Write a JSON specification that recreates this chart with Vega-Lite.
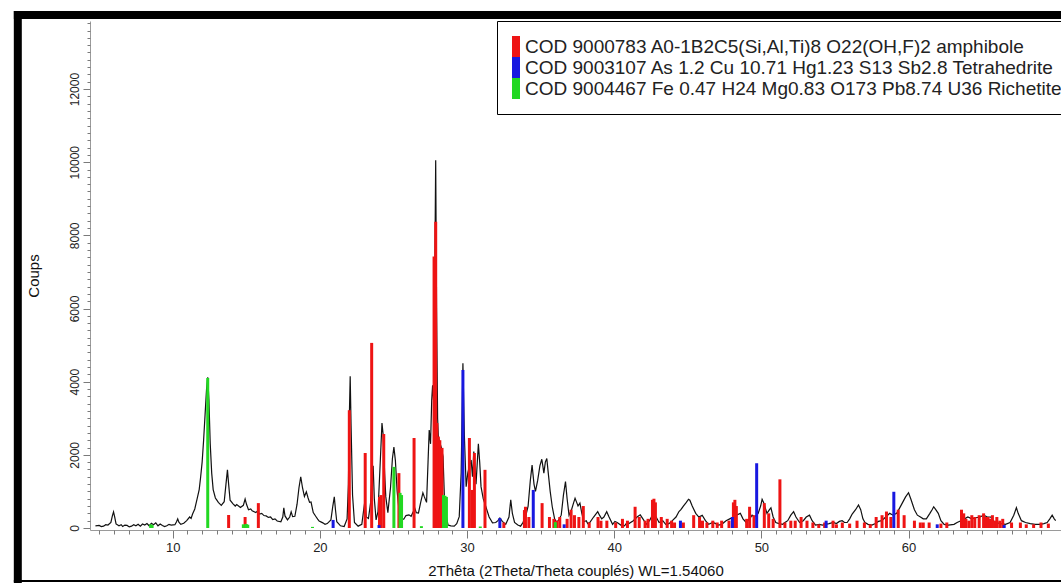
{
  "$schema": "https://vega.github.io/schema/vega-lite/v6.json",
  "width": 971,
  "height": 509,
  "autosize": {"type": "none"},
  "padding": {"left": 90, "top": 21, "right": 0, "bottom": 53},
  "background": "white",
  "config": {"view": {"stroke": null}, "font": "Liberation Sans"},
  "resolve": {"axis": {"x": "independent", "y": "independent"}},
  "datasets": {
    "scan": [
      {"twotheta": 4.75, "counts": 60}, {"twotheta": 5.0, "counts": 70}, {"twotheta": 5.15, "counts": 40}, {"twotheta": 5.3, "counts": 50}, {"twotheta": 5.45, "counts": 90}, {"twotheta": 5.6, "counts": 80}, {"twotheta": 5.8, "counts": 150}, {"twotheta": 5.9, "counts": 330}, {"twotheta": 5.98, "counts": 440}, {"twotheta": 6.06, "counts": 300}, {"twotheta": 6.15, "counts": 110}, {"twotheta": 6.35, "counts": 60}, {"twotheta": 6.5, "counts": 90}, {"twotheta": 6.6, "counts": 40}, {"twotheta": 6.75, "counts": 80}, {"twotheta": 6.9, "counts": 70}, {"twotheta": 7.05, "counts": 30}, {"twotheta": 7.2, "counts": 50}, {"twotheta": 7.35, "counts": 90}, {"twotheta": 7.5, "counts": 60}, {"twotheta": 7.65, "counts": 100}, {"twotheta": 7.8, "counts": 50}, {"twotheta": 7.95, "counts": 110}, {"twotheta": 8.1, "counts": 80}, {"twotheta": 8.25, "counts": 120}, {"twotheta": 8.4, "counts": 60}, {"twotheta": 8.55, "counts": 130}, {"twotheta": 8.7, "counts": 90}, {"twotheta": 8.85, "counts": 140}, {"twotheta": 9.0, "counts": 60}, {"twotheta": 9.15, "counts": 110}, {"twotheta": 9.3, "counts": 70}, {"twotheta": 9.45, "counts": 40}, {"twotheta": 9.6, "counts": 60}, {"twotheta": 9.75, "counts": 100}, {"twotheta": 9.9, "counts": 80},
      {"twotheta": 10.15, "counts": 90}, {"twotheta": 10.26, "counts": 170}, {"twotheta": 10.34, "counts": 250}, {"twotheta": 10.42, "counts": 160}, {"twotheta": 10.55, "counts": 100}, {"twotheta": 10.75, "counts": 130}, {"twotheta": 10.95, "counts": 200}, {"twotheta": 11.15, "counts": 300}, {"twotheta": 11.25, "counts": 260}, {"twotheta": 11.35, "counts": 380}, {"twotheta": 11.5, "counts": 520}, {"twotheta": 11.65, "counts": 780}, {"twotheta": 11.8, "counts": 1050}, {"twotheta": 11.9, "counts": 1400}, {"twotheta": 12.0, "counts": 1800}, {"twotheta": 12.1, "counts": 2400}, {"twotheta": 12.2, "counts": 3100}, {"twotheta": 12.3, "counts": 3800}, {"twotheta": 12.38, "counts": 4120}, {"twotheta": 12.46, "counts": 3500}, {"twotheta": 12.55, "counts": 2300}, {"twotheta": 12.65, "counts": 1500}, {"twotheta": 12.75, "counts": 1050}, {"twotheta": 12.9, "counts": 820}, {"twotheta": 13.0, "counts": 760}, {"twotheta": 13.1, "counts": 700}, {"twotheta": 13.2, "counts": 660}, {"twotheta": 13.3, "counts": 620}, {"twotheta": 13.5, "counts": 720}, {"twotheta": 13.62, "counts": 1200}, {"twotheta": 13.72, "counts": 1590}, {"twotheta": 13.8, "counts": 1200}, {"twotheta": 13.9, "counts": 760},
      {"twotheta": 14.1, "counts": 660}, {"twotheta": 14.25, "counts": 600}, {"twotheta": 14.35, "counts": 640}, {"twotheta": 14.6, "counts": 560}, {"twotheta": 14.8, "counts": 620}, {"twotheta": 14.92, "counts": 790}, {"twotheta": 15.02, "counts": 640}, {"twotheta": 15.15, "counts": 500}, {"twotheta": 15.3, "counts": 520}, {"twotheta": 15.4, "counts": 470}, {"twotheta": 15.65, "counts": 420}, {"twotheta": 15.75, "counts": 460}, {"twotheta": 15.9, "counts": 380}, {"twotheta": 16.05, "counts": 400}, {"twotheta": 16.2, "counts": 340}, {"twotheta": 16.35, "counts": 330}, {"twotheta": 16.5, "counts": 290}, {"twotheta": 16.65, "counts": 300}, {"twotheta": 16.8, "counts": 230}, {"twotheta": 16.95, "counts": 250}, {"twotheta": 17.1, "counts": 190}, {"twotheta": 17.35, "counts": 170}, {"twotheta": 17.48, "counts": 300}, {"twotheta": 17.55, "counts": 550}, {"twotheta": 17.63, "counts": 330}, {"twotheta": 17.8, "counts": 220}, {"twotheta": 17.95, "counts": 300}, {"twotheta": 18.05, "counts": 440}, {"twotheta": 18.15, "counts": 310}, {"twotheta": 18.3, "counts": 320}, {"twotheta": 18.45, "counts": 650}, {"twotheta": 18.58, "counts": 1100}, {"twotheta": 18.7, "counts": 1400}, {"twotheta": 18.82, "counts": 1100}, {"twotheta": 18.95, "counts": 860}, {"twotheta": 19.08, "counts": 990}, {"twotheta": 19.2, "counts": 820}, {"twotheta": 19.3, "counts": 700}, {"twotheta": 19.4, "counts": 710}, {"twotheta": 19.55, "counts": 420}, {"twotheta": 19.75, "counts": 300}, {"twotheta": 19.85, "counts": 240}, {"twotheta": 19.95, "counts": 190},
      {"twotheta": 20.1, "counts": 160}, {"twotheta": 20.2, "counts": 140}, {"twotheta": 20.35, "counts": 100}, {"twotheta": 20.5, "counts": 120}, {"twotheta": 20.75, "counts": 220}, {"twotheta": 20.88, "counts": 600}, {"twotheta": 20.98, "counts": 850}, {"twotheta": 21.06, "counts": 500}, {"twotheta": 21.15, "counts": 170}, {"twotheta": 21.4, "counts": 60}, {"twotheta": 21.65, "counts": 40}, {"twotheta": 21.85, "counts": 250}, {"twotheta": 21.94, "counts": 1200}, {"twotheta": 22.0, "counts": 3000}, {"twotheta": 22.06, "counts": 4150}, {"twotheta": 22.12, "counts": 2800}, {"twotheta": 22.22, "counts": 900}, {"twotheta": 22.35, "counts": 150}, {"twotheta": 22.6, "counts": 50}, {"twotheta": 22.85, "counts": 100}, {"twotheta": 22.98, "counts": 500}, {"twotheta": 23.07, "counts": 770}, {"twotheta": 23.15, "counts": 300}, {"twotheta": 23.3, "counts": 260}, {"twotheta": 23.45, "counts": 700}, {"twotheta": 23.55, "counts": 1500}, {"twotheta": 23.62, "counts": 1700}, {"twotheta": 23.7, "counts": 800}, {"twotheta": 23.82, "counts": 220}, {"twotheta": 23.95, "counts": 450}, {"twotheta": 24.08, "counts": 1600}, {"twotheta": 24.22, "counts": 2870}, {"twotheta": 24.3, "counts": 2550}, {"twotheta": 24.4, "counts": 1500}, {"twotheta": 24.48, "counts": 850}, {"twotheta": 24.62, "counts": 420}, {"twotheta": 24.8, "counts": 1100}, {"twotheta": 24.93, "counts": 1900}, {"twotheta": 25.03, "counts": 2210}, {"twotheta": 25.13, "counts": 1850}, {"twotheta": 25.25, "counts": 1000}, {"twotheta": 25.37, "counts": 520}, {"twotheta": 25.55, "counts": 240}, {"twotheta": 25.7, "counts": 240}, {"twotheta": 25.85, "counts": 340},
      {"twotheta": 26.05, "counts": 360}, {"twotheta": 26.2, "counts": 320}, {"twotheta": 26.35, "counts": 450}, {"twotheta": 26.44, "counts": 550}, {"twotheta": 26.55, "counts": 420}, {"twotheta": 26.7, "counts": 410}, {"twotheta": 26.85, "counts": 700}, {"twotheta": 27.0, "counts": 960}, {"twotheta": 27.1, "counts": 850}, {"twotheta": 27.25, "counts": 700}, {"twotheta": 27.35, "counts": 1800}, {"twotheta": 27.43, "counts": 2680}, {"twotheta": 27.52, "counts": 2300}, {"twotheta": 27.6, "counts": 3500}, {"twotheta": 27.66, "counts": 3900}, {"twotheta": 27.72, "counts": 3500}, {"twotheta": 27.8, "counts": 6500}, {"twotheta": 27.87, "counts": 10050}, {"twotheta": 27.93, "counts": 6000}, {"twotheta": 28.0, "counts": 3000}, {"twotheta": 28.05, "counts": 2500}, {"twotheta": 28.12, "counts": 2370}, {"twotheta": 28.25, "counts": 2200}, {"twotheta": 28.37, "counts": 1950}, {"twotheta": 28.46, "counts": 860}, {"twotheta": 28.6, "counts": 300}, {"twotheta": 28.71, "counts": 80}, {"twotheta": 28.9, "counts": 60}, {"twotheta": 29.13, "counts": 50}, {"twotheta": 29.3, "counts": 120}, {"twotheta": 29.47, "counts": 310}, {"twotheta": 29.6, "counts": 1500}, {"twotheta": 29.72, "counts": 4500}, {"twotheta": 29.82, "counts": 2500}, {"twotheta": 29.94, "counts": 1130},
      {"twotheta": 30.05, "counts": 1500}, {"twotheta": 30.16, "counts": 1700}, {"twotheta": 30.28, "counts": 1860}, {"twotheta": 30.37, "counts": 1400}, {"twotheta": 30.46, "counts": 2090}, {"twotheta": 30.61, "counts": 1200}, {"twotheta": 30.77, "counts": 2300}, {"twotheta": 30.86, "counts": 1800}, {"twotheta": 30.95, "counts": 1130}, {"twotheta": 31.1, "counts": 800}, {"twotheta": 31.28, "counts": 580}, {"twotheta": 31.5, "counts": 300}, {"twotheta": 31.73, "counts": 140}, {"twotheta": 31.95, "counts": 150}, {"twotheta": 32.1, "counts": 200}, {"twotheta": 32.23, "counts": 270}, {"twotheta": 32.4, "counts": 180}, {"twotheta": 32.63, "counts": 100}, {"twotheta": 32.85, "counts": 300}, {"twotheta": 32.97, "counts": 770}, {"twotheta": 33.08, "counts": 400}, {"twotheta": 33.23, "counts": 150}, {"twotheta": 33.45, "counts": 80}, {"twotheta": 33.64, "counts": 50}, {"twotheta": 33.8, "counts": 150}, {"twotheta": 33.97, "counts": 300}, {"twotheta": 34.15, "counts": 600}, {"twotheta": 34.3, "counts": 1300}, {"twotheta": 34.42, "counts": 1720}, {"twotheta": 34.55, "counts": 1200}, {"twotheta": 34.65, "counts": 1000}, {"twotheta": 34.8, "counts": 1300}, {"twotheta": 34.95, "counts": 1700}, {"twotheta": 35.08, "counts": 1880}, {"twotheta": 35.15, "counts": 1700}, {"twotheta": 35.22, "counts": 1500}, {"twotheta": 35.32, "counts": 1800}, {"twotheta": 35.42, "counts": 1900}, {"twotheta": 35.52, "counts": 1500}, {"twotheta": 35.65, "counts": 1000}, {"twotheta": 35.79, "counts": 580}, {"twotheta": 35.95, "counts": 250},
      {"twotheta": 36.06, "counts": 170}, {"twotheta": 36.2, "counts": 200}, {"twotheta": 36.4, "counts": 350}, {"twotheta": 36.55, "counts": 900}, {"twotheta": 36.69, "counts": 1270}, {"twotheta": 36.8, "counts": 800}, {"twotheta": 36.93, "counts": 350}, {"twotheta": 37.1, "counts": 500}, {"twotheta": 37.25, "counts": 700}, {"twotheta": 37.34, "counts": 810}, {"twotheta": 37.45, "counts": 700}, {"twotheta": 37.54, "counts": 600}, {"twotheta": 37.67, "counts": 680}, {"twotheta": 37.8, "counts": 400}, {"twotheta": 37.94, "counts": 170}, {"twotheta": 38.1, "counts": 200}, {"twotheta": 38.2, "counts": 120}, {"twotheta": 38.34, "counts": 150}, {"twotheta": 38.6, "counts": 300}, {"twotheta": 38.88, "counts": 445}, {"twotheta": 39.0, "counts": 350}, {"twotheta": 39.15, "counts": 250}, {"twotheta": 39.3, "counts": 300}, {"twotheta": 39.49, "counts": 445}, {"twotheta": 39.65, "counts": 300}, {"twotheta": 39.89, "counts": 100},
      {"twotheta": 40.05, "counts": 180}, {"twotheta": 40.2, "counts": 150}, {"twotheta": 40.45, "counts": 80}, {"twotheta": 40.7, "counts": 60}, {"twotheta": 40.85, "counts": 140}, {"twotheta": 41.0, "counts": 120}, {"twotheta": 41.3, "counts": 200}, {"twotheta": 41.55, "counts": 300}, {"twotheta": 41.77, "counts": 360}, {"twotheta": 41.95, "counts": 250}, {"twotheta": 42.18, "counts": 100}, {"twotheta": 42.4, "counts": 200}, {"twotheta": 42.65, "counts": 400}, {"twotheta": 42.85, "counts": 300}, {"twotheta": 43.05, "counts": 150}, {"twotheta": 43.3, "counts": 200}, {"twotheta": 43.5, "counts": 100}, {"twotheta": 43.72, "counts": 120}, {"twotheta": 43.95, "counts": 200}, {"twotheta": 44.2, "counts": 300}, {"twotheta": 44.4, "counts": 450}, {"twotheta": 44.53, "counts": 500}, {"twotheta": 44.7, "counts": 600}, {"twotheta": 44.9, "counts": 700}, {"twotheta": 45.05, "counts": 785}, {"twotheta": 45.14, "counts": 760}, {"twotheta": 45.3, "counts": 600}, {"twotheta": 45.54, "counts": 400}, {"twotheta": 45.75, "counts": 300}, {"twotheta": 45.98, "counts": 350}, {"twotheta": 46.2, "counts": 200}, {"twotheta": 46.42, "counts": 100}, {"twotheta": 46.7, "counts": 150}, {"twotheta": 46.9, "counts": 120}, {"twotheta": 47.09, "counts": 80}, {"twotheta": 47.3, "counts": 100}, {"twotheta": 47.6, "counts": 200}, {"twotheta": 47.85, "counts": 250}, {"twotheta": 48.1, "counts": 300}, {"twotheta": 48.3, "counts": 350}, {"twotheta": 48.57, "counts": 400}, {"twotheta": 48.75, "counts": 250}, {"twotheta": 48.97, "counts": 150}, {"twotheta": 49.2, "counts": 250}, {"twotheta": 49.37, "counts": 350}, {"twotheta": 49.55, "counts": 300}, {"twotheta": 49.78, "counts": 400}, {"twotheta": 49.95, "counts": 600},
      {"twotheta": 50.05, "counts": 785}, {"twotheta": 50.15, "counts": 700}, {"twotheta": 50.38, "counts": 400}, {"twotheta": 50.55, "counts": 500}, {"twotheta": 50.65, "counts": 550}, {"twotheta": 50.8, "counts": 300}, {"twotheta": 50.98, "counts": 150}, {"twotheta": 51.2, "counts": 120}, {"twotheta": 51.45, "counts": 100}, {"twotheta": 51.6, "counts": 150}, {"twotheta": 51.79, "counts": 200}, {"twotheta": 52.0, "counts": 350}, {"twotheta": 52.19, "counts": 445}, {"twotheta": 52.35, "counts": 300}, {"twotheta": 52.6, "counts": 150}, {"twotheta": 52.85, "counts": 200}, {"twotheta": 53.05, "counts": 300}, {"twotheta": 53.27, "counts": 350}, {"twotheta": 53.45, "counts": 200}, {"twotheta": 53.68, "counts": 80}, {"twotheta": 53.95, "counts": 100}, {"twotheta": 54.15, "counts": 80}, {"twotheta": 54.35, "counts": 100}, {"twotheta": 54.6, "counts": 120}, {"twotheta": 54.89, "counts": 150}, {"twotheta": 55.1, "counts": 120}, {"twotheta": 55.3, "counts": 180}, {"twotheta": 55.49, "counts": 200}, {"twotheta": 55.65, "counts": 150}, {"twotheta": 55.83, "counts": 150}, {"twotheta": 56.0, "counts": 250}, {"twotheta": 56.17, "counts": 380}, {"twotheta": 56.4, "counts": 500}, {"twotheta": 56.6, "counts": 630}, {"twotheta": 56.75, "counts": 500}, {"twotheta": 56.9, "counts": 250}, {"twotheta": 57.04, "counts": 150}, {"twotheta": 57.25, "counts": 100}, {"twotheta": 57.51, "counts": 80}, {"twotheta": 57.75, "counts": 120}, {"twotheta": 57.95, "counts": 180}, {"twotheta": 58.18, "counts": 200}, {"twotheta": 58.45, "counts": 300}, {"twotheta": 58.72, "counts": 400}, {"twotheta": 58.95, "counts": 350}, {"twotheta": 59.19, "counts": 400}, {"twotheta": 59.4, "counts": 550}, {"twotheta": 59.6, "counts": 700}, {"twotheta": 59.8, "counts": 850},
      {"twotheta": 60.0, "counts": 965}, {"twotheta": 60.15, "counts": 800}, {"twotheta": 60.4, "counts": 500}, {"twotheta": 60.6, "counts": 350}, {"twotheta": 60.81, "counts": 300}, {"twotheta": 61.0, "counts": 250}, {"twotheta": 61.21, "counts": 250}, {"twotheta": 61.45, "counts": 400}, {"twotheta": 61.6, "counts": 500}, {"twotheta": 61.71, "counts": 580}, {"twotheta": 61.85, "counts": 500}, {"twotheta": 62.02, "counts": 400}, {"twotheta": 62.2, "counts": 200}, {"twotheta": 62.42, "counts": 100}, {"twotheta": 62.7, "counts": 80}, {"twotheta": 63.09, "counts": 100}, {"twotheta": 63.3, "counts": 150}, {"twotheta": 63.56, "counts": 200}, {"twotheta": 63.8, "counts": 250}, {"twotheta": 64.03, "counts": 300}, {"twotheta": 64.3, "counts": 250}, {"twotheta": 64.57, "counts": 280}, {"twotheta": 64.85, "counts": 300}, {"twotheta": 65.11, "counts": 350}, {"twotheta": 65.35, "counts": 300}, {"twotheta": 65.58, "counts": 300}, {"twotheta": 65.75, "counts": 200}, {"twotheta": 65.92, "counts": 150}, {"twotheta": 66.25, "counts": 120}, {"twotheta": 66.59, "counts": 100}, {"twotheta": 66.9, "counts": 150}, {"twotheta": 67.15, "counts": 350}, {"twotheta": 67.33, "counts": 555}, {"twotheta": 67.45, "counts": 400}, {"twotheta": 67.67, "counts": 200}, {"twotheta": 67.95, "counts": 150}, {"twotheta": 68.27, "counts": 120}, {"twotheta": 68.6, "counts": 100}, {"twotheta": 68.95, "counts": 100}, {"twotheta": 69.2, "counts": 120}, {"twotheta": 69.42, "counts": 150}, {"twotheta": 69.6, "counts": 250}, {"twotheta": 69.76, "counts": 350}, {"twotheta": 69.9, "counts": 250}, {"twotheta": 70.0, "counts": 200}
    ],
    "sticks": [
      {"twotheta": 13.8, "counts": 355, "phase": "A"}, {"twotheta": 14.92, "counts": 300, "phase": "A"}, {"twotheta": 15.82, "counts": 680, "phase": "A"}, {"twotheta": 22.0, "counts": 3220, "phase": "A"}, {"twotheta": 23.08, "counts": 2050, "phase": "A"}, {"twotheta": 23.52, "counts": 5060, "phase": "A"}, {"twotheta": 24.05, "counts": 850, "phase": "A"}, {"twotheta": 24.15, "counts": 900, "phase": "A"}, {"twotheta": 24.34, "counts": 2570, "phase": "A"}, {"twotheta": 25.37, "counts": 1500, "phase": "A"}, {"twotheta": 26.4, "counts": 2460, "phase": "A"}, {"twotheta": 27.76, "counts": 7420, "phase": "A"}, {"twotheta": 27.87, "counts": 8375, "phase": "A"}, {"twotheta": 27.95, "counts": 2870, "phase": "A"}, {"twotheta": 28.05, "counts": 2500, "phase": "A"}, {"twotheta": 28.15, "counts": 2400, "phase": "A"}, {"twotheta": 28.3, "counts": 2190, "phase": "A"}, {"twotheta": 30.16, "counts": 2460, "phase": "A"}, {"twotheta": 30.35, "counts": 1040, "phase": "A"}, {"twotheta": 30.5, "counts": 2050, "phase": "A"}, {"twotheta": 31.22, "counts": 1590, "phase": "A"}, {"twotheta": 32.5, "counts": 150, "phase": "A"}, {"twotheta": 33.9, "counts": 490, "phase": "A"}, {"twotheta": 33.97, "counts": 580, "phase": "A"}, {"twotheta": 34.2, "counts": 300, "phase": "A"}, {"twotheta": 35.1, "counts": 680, "phase": "A"}, {"twotheta": 35.6, "counts": 300, "phase": "A"}, {"twotheta": 35.9, "counts": 250, "phase": "A"}, {"twotheta": 36.1, "counts": 200, "phase": "A"}, {"twotheta": 36.3, "counts": 300, "phase": "A"}, {"twotheta": 36.8, "counts": 250, "phase": "A"}, {"twotheta": 37.07, "counts": 500, "phase": "A"}, {"twotheta": 37.3, "counts": 350, "phase": "A"}, {"twotheta": 37.6, "counts": 300, "phase": "A"}, {"twotheta": 37.9, "counts": 600, "phase": "A"}, {"twotheta": 38.3, "counts": 150, "phase": "A"}, {"twotheta": 38.9, "counts": 300, "phase": "A"}, {"twotheta": 39.1, "counts": 200, "phase": "A"}, {"twotheta": 39.5, "counts": 200, "phase": "A"}, {"twotheta": 40.1, "counts": 150, "phase": "A"}, {"twotheta": 40.56, "counts": 250, "phase": "A"}, {"twotheta": 40.9, "counts": 200, "phase": "A"}, {"twotheta": 41.42, "counts": 580, "phase": "A"}, {"twotheta": 41.7, "counts": 300, "phase": "A"}, {"twotheta": 42.1, "counts": 200, "phase": "A"}, {"twotheta": 42.3, "counts": 250, "phase": "A"}, {"twotheta": 42.6, "counts": 770, "phase": "A"}, {"twotheta": 42.7, "counts": 800, "phase": "A"}, {"twotheta": 42.8, "counts": 700, "phase": "A"}, {"twotheta": 43.2, "counts": 300, "phase": "A"}, {"twotheta": 43.6, "counts": 250, "phase": "A"}, {"twotheta": 43.9, "counts": 200, "phase": "A"}, {"twotheta": 44.1, "counts": 150, "phase": "A"}, {"twotheta": 44.7, "counts": 150, "phase": "A"}, {"twotheta": 45.4, "counts": 350, "phase": "A"}, {"twotheta": 45.8, "counts": 300, "phase": "A"}, {"twotheta": 46.0, "counts": 200, "phase": "A"}, {"twotheta": 46.3, "counts": 150, "phase": "A"}, {"twotheta": 46.7, "counts": 200, "phase": "A"}, {"twotheta": 47.0, "counts": 150, "phase": "A"}, {"twotheta": 47.3, "counts": 200, "phase": "A"}, {"twotheta": 47.8, "counts": 200, "phase": "A"}, {"twotheta": 48.1, "counts": 700, "phase": "A"}, {"twotheta": 48.2, "counts": 770, "phase": "A"}, {"twotheta": 48.3, "counts": 600, "phase": "A"}, {"twotheta": 49.0, "counts": 250, "phase": "A"}, {"twotheta": 49.2, "counts": 580, "phase": "A"}, {"twotheta": 49.5, "counts": 350, "phase": "A"}, {"twotheta": 50.2, "counts": 680, "phase": "A"}, {"twotheta": 50.5, "counts": 400, "phase": "A"}, {"twotheta": 50.8, "counts": 250, "phase": "A"}, {"twotheta": 51.26, "counts": 1330, "phase": "A"}, {"twotheta": 51.6, "counts": 150, "phase": "A"}, {"twotheta": 52.0, "counts": 200, "phase": "A"}, {"twotheta": 52.3, "counts": 200, "phase": "A"}, {"twotheta": 52.7, "counts": 300, "phase": "A"}, {"twotheta": 53.1, "counts": 200, "phase": "A"}, {"twotheta": 53.5, "counts": 150, "phase": "A"}, {"twotheta": 53.9, "counts": 100, "phase": "A"}, {"twotheta": 54.3, "counts": 150, "phase": "A"}, {"twotheta": 54.87, "counts": 200, "phase": "A"}, {"twotheta": 55.1, "counts": 100, "phase": "A"}, {"twotheta": 55.5, "counts": 150, "phase": "A"}, {"twotheta": 56.0, "counts": 120, "phase": "A"}, {"twotheta": 56.5, "counts": 200, "phase": "A"}, {"twotheta": 57.0, "counts": 150, "phase": "A"}, {"twotheta": 57.4, "counts": 100, "phase": "A"}, {"twotheta": 57.8, "counts": 300, "phase": "A"}, {"twotheta": 58.2, "counts": 350, "phase": "A"}, {"twotheta": 58.5, "counts": 450, "phase": "A"}, {"twotheta": 58.8, "counts": 300, "phase": "A"}, {"twotheta": 59.3, "counts": 500, "phase": "A"}, {"twotheta": 59.7, "counts": 350, "phase": "A"}, {"twotheta": 60.4, "counts": 200, "phase": "A"}, {"twotheta": 60.8, "counts": 150, "phase": "A"}, {"twotheta": 61.0, "counts": 150, "phase": "A"}, {"twotheta": 61.4, "counts": 150, "phase": "A"}, {"twotheta": 62.2, "counts": 120, "phase": "A"}, {"twotheta": 62.6, "counts": 150, "phase": "A"}, {"twotheta": 63.6, "counts": 500, "phase": "A"}, {"twotheta": 63.75, "counts": 400, "phase": "A"}, {"twotheta": 63.9, "counts": 250, "phase": "A"}, {"twotheta": 64.1, "counts": 200, "phase": "A"}, {"twotheta": 64.3, "counts": 350, "phase": "A"}, {"twotheta": 64.5, "counts": 300, "phase": "A"}, {"twotheta": 64.8, "counts": 350, "phase": "A"}, {"twotheta": 65.1, "counts": 400, "phase": "A"}, {"twotheta": 65.25, "counts": 300, "phase": "A"}, {"twotheta": 65.4, "counts": 300, "phase": "A"}, {"twotheta": 65.55, "counts": 250, "phase": "A"}, {"twotheta": 65.7, "counts": 350, "phase": "A"}, {"twotheta": 65.85, "counts": 200, "phase": "A"}, {"twotheta": 66.0, "counts": 300, "phase": "A"}, {"twotheta": 66.2, "counts": 200, "phase": "A"}, {"twotheta": 66.4, "counts": 250, "phase": "A"}, {"twotheta": 67.0, "counts": 150, "phase": "A"}, {"twotheta": 67.6, "counts": 150, "phase": "A"}, {"twotheta": 68.0, "counts": 100, "phase": "A"}, {"twotheta": 68.5, "counts": 100, "phase": "A"}, {"twotheta": 69.0, "counts": 150, "phase": "A"}, {"twotheta": 69.5, "counts": 120, "phase": "A"},
      {"twotheta": 20.9, "counts": 220, "phase": "B"}, {"twotheta": 24.02, "counts": 80, "phase": "B"}, {"twotheta": 29.72, "counts": 4320, "phase": "B"}, {"twotheta": 32.23, "counts": 270, "phase": "B"}, {"twotheta": 34.5, "counts": 1040, "phase": "B"}, {"twotheta": 36.6, "counts": 100, "phase": "B"}, {"twotheta": 44.5, "counts": 200, "phase": "B"}, {"twotheta": 48.03, "counts": 300, "phase": "B"}, {"twotheta": 49.68, "counts": 1770, "phase": "B"}, {"twotheta": 54.4, "counts": 200, "phase": "B"}, {"twotheta": 59.0, "counts": 990, "phase": "B"}, {"twotheta": 61.95, "counts": 100, "phase": "B"}, {"twotheta": 66.5, "counts": 80, "phase": "B"},
      {"twotheta": 8.5, "counts": 100, "phase": "C"}, {"twotheta": 8.6, "counts": 80, "phase": "C"}, {"twotheta": 12.38, "counts": 4100, "phase": "C"}, {"twotheta": 14.8, "counts": 100, "phase": "C"}, {"twotheta": 15.0, "counts": 110, "phase": "C"}, {"twotheta": 15.1, "counts": 90, "phase": "C"}, {"twotheta": 19.5, "counts": 30, "phase": "C"}, {"twotheta": 25.03, "counts": 1670, "phase": "C"}, {"twotheta": 25.45, "counts": 960, "phase": "C"}, {"twotheta": 25.55, "counts": 900, "phase": "C"}, {"twotheta": 26.9, "counts": 50, "phase": "C"}, {"twotheta": 28.4, "counts": 900, "phase": "C"}, {"twotheta": 28.5, "counts": 880, "phase": "C"}, {"twotheta": 28.6, "counts": 850, "phase": "C"}, {"twotheta": 30.9, "counts": 40, "phase": "C"}, {"twotheta": 36.0, "counts": 160, "phase": "C"}
    ]
  },
  "layer": [
    {
      "data": {"name": "scan"},
      "mark": {"type": "line", "color": "#111111", "strokeWidth": 1.2},
      "encoding": {
        "x": {
          "field": "twotheta", "type": "quantitative",
          "scale": {"domain": [4.72, 70.02], "nice": false, "zero": false},
          "axis": {
            "orient": "bottom",
            "title": "2Thêta (2Theta/Theta couplés) WL=1.54060",
            "values": [10, 20, 30, 40, 50, 60],
            "format": "d",
            "tickSize": 8,
            "grid": false,
            "domainColor": "#9a9a9a",
            "tickColor": "#7a7a7a",
            "labelFontSize": 13,
            "labelColor": "#222222",
            "labelPadding": 3,
            "labelOverlap": false,
            "labelFlush": false,
            "labelBound": false,
            "titleFontSize": 15,
            "titleFontWeight": "normal",
            "titleColor": "#111111",
            "titlePadding": 9
          }
        },
        "y": {
          "field": "counts", "type": "quantitative",
          "scale": {"domain": [-55, 13860], "nice": false, "zero": false},
          "axis": {
            "orient": "left",
            "title": "Coups",
            "values": [0, 2000, 4000, 6000, 8000, 10000, 12000],
            "format": "d",
            "tickSize": 7,
            "labelAngle": -90,
            "grid": false,
            "domainColor": "#9a9a9a",
            "tickColor": "#7a7a7a",
            "labelFontSize": 12,
            "labelColor": "#222222",
            "labelPadding": 2,
            "labelOverlap": false,
            "labelFlush": false,
            "labelBound": false,
            "titleFontSize": 15,
            "titleFontWeight": "normal",
            "titleColor": "#111111",
            "titlePadding": 27
          }
        }
      }
    },
    {
      "data": {"name": "sticks"},
      "mark": {"type": "bar", "size": 3},
      "encoding": {
        "x": {
          "field": "twotheta", "type": "quantitative",
          "axis": {"orient": "bottom", "title": null, "labels": false, "domain": false, "grid": false, "tickSize": 4, "tickColor": "#7a7a7a",
                   "values": [5,6,7,8,9,11,12,13,14,15,16,17,18,19,21,22,23,24,25,26,27,28,29,31,32,33,34,35,36,37,38,39,41,42,43,44,45,46,47,48,49,51,52,53,54,55,56,57,58,59,61,62,63,64,65,66,67,68,69]}
        },
        "y": {
          "field": "counts", "type": "quantitative",
          "axis": {"orient": "left", "title": null, "labels": false, "domain": false, "grid": false, "tickSize": 3, "tickColor": "#7a7a7a",
                   "values": [200,400,600,800,1000,1200,1400,1600,1800,2200,2400,2600,2800,3000,3200,3400,3600,3800,4200,4400,4600,4800,5000,5200,5400,5600,5800,6200,6400,6600,6800,7000,7200,7400,7600,7800,8200,8400,8600,8800,9000,9200,9400,9600,9800,10200,10400,10600,10800,11000,11200,11400,11600,11800,12200,12400,12600,12800,13000,13200,13400,13600,13800]}
        },
        "y2": {"datum": 0},
        "color": {
          "field": "phase", "type": "nominal",
          "scale": {"domain": ["A", "B", "C"], "range": ["#ee1414", "#1818e0", "#22d822"]},
          "legend": {
            "title": null,
            "orient": "none",
            "legendX": 407,
            "legendY": 0,
            "direction": "vertical",
            "labelExpr": "datum.value === 'A' ? 'COD 9000783 A0-1B2C5(Si,Al,Ti)8 O22(OH,F)2 amphibole' : datum.value === 'B' ? 'COD 9003107 As 1.2 Cu 10.71 Hg1.23 S13 Sb2.8 Tetrahedrite' : 'COD 9004467 Fe 0.47 H24 Mg0.83 O173  Pb8.74 U36 Richetite'",
            "symbolType": "M-1,-1H-0.24V1H-1Z",
            "symbolSize": 441,
            "symbolStrokeWidth": 0,
            "symbolOpacity": 1,
            "labelFontSize": 19,
            "labelLimit": 800,
            "labelOffset": -8,
            "labelColor": "#222222",
            "rowPadding": 0,
            "padding": 15,
            "strokeColor": "#000000",
            "fillColor": "white",
            "cornerRadius": 0
          }
        }
      }
    },
    {
      "data": {"values": [{}]},
      "mark": {"type": "rule", "color": "black", "strokeWidth": 8},
      "encoding": {"x": {"datum": -0.525, "axis": null}, "y": {"datum": -1700, "axis": null}, "y2": {"datum": 14132}}
    },
    {
      "data": {"values": [{}]},
      "mark": {"type": "rule", "color": "black", "strokeWidth": 8},
      "encoding": {"y": {"datum": 14023, "axis": null}, "x": {"datum": -0.794, "axis": null}, "x2": {"datum": 72}}
    },
    {
      "data": {"values": [{}]},
      "mark": {"type": "rule", "color": "black", "strokeWidth": 2},
      "encoding": {"y": {"datum": -1449, "axis": null}, "x": {"datum": -0.794, "axis": null}, "x2": {"datum": 72}}
    }
  ]
}
